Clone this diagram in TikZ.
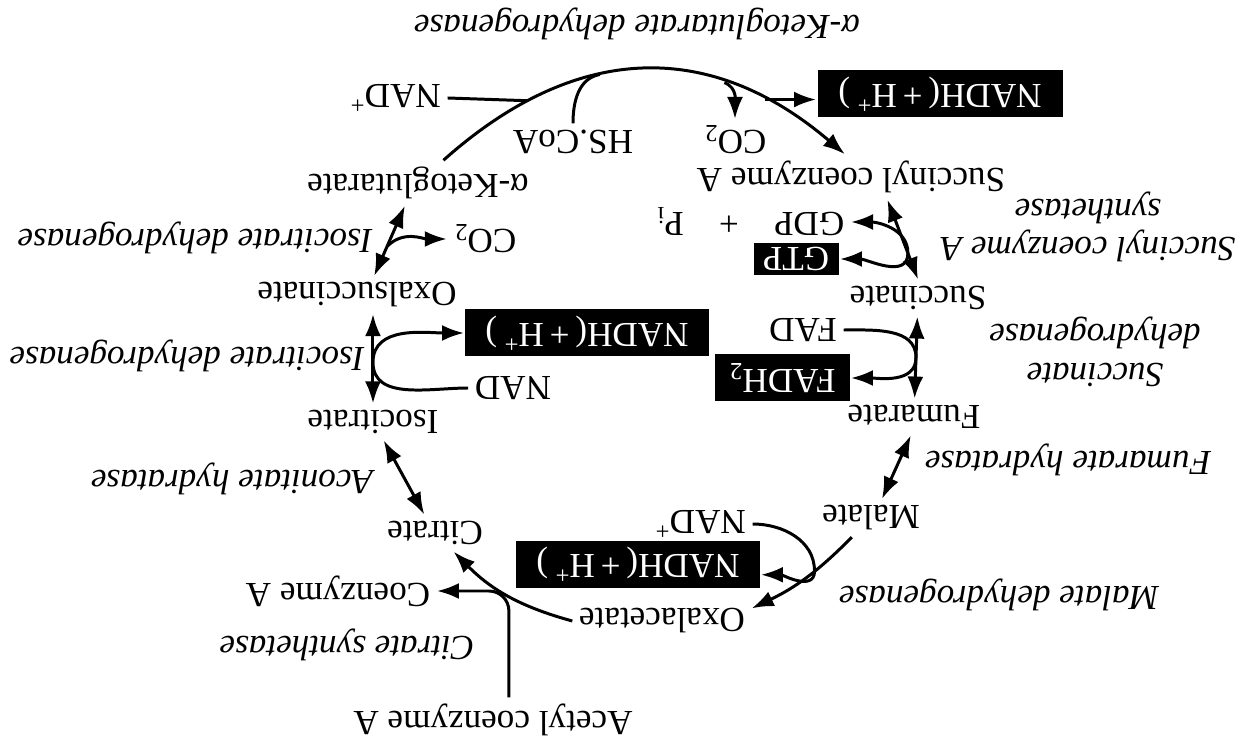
\documentclass[tikz,border=0pt]{standalone}
\usepackage{fontspec}
\setmainfont{Liberation Serif}
\usetikzlibrary{arrows.meta}

\begin{document}
\begin{tikzpicture}[rotate=180, transform shape, line width=0.85pt,
    every node/.style={inner sep=1.5pt},
    arr/.style={-{Latex[length=2.2mm,width=1.6mm]}},
    dbl/.style={{Latex[length=2.2mm,width=1.6mm]}-{Latex[length=2.2mm,width=1.6mm]}},
    enz/.style={font=\fontsize{10}{11}\selectfont\itshape, align=center},
    blk/.style={fill=black, text=white, inner sep=0pt, minimum height=4.7mm}]
  \useasboundingbox (0,0) rectangle (12.51,-7.42);

  % the cycle
  \node (acoa)   at (7.58,-0.22) {Acetyl coenzyme A};
  \node (oaa)    at (5.89,-1.21) {Oxalacetate};
  \node (cit)    at (8.16,-2.09) {Citrate};
  \node (coa)    at (9.13,-1.51) {Coenzyme A};
  \node (icit)   at (8.78,-3.20) {Isocitrate};
  \node (oxs)    at (8.94,-4.47) {Oxalsuccinate};
  \node (akg)    at (8.33,-5.59) {α-Ketoglutarate};
  \node (succoa) at (4.00,-5.65) {Succinyl coenzyme A};
  \node (succ)   at (3.33,-4.44) {Succinate};
  \node (fum)    at (3.37,-3.25) {Fumarate};
  \node (mal)    at (3.80,-2.24) {Malate};

  % cofactors
  \node (nadA)  at (8.56,-6.44) {NAD\textsuperscript{+}};
  \node (hscoa) at (6.78,-6.00) {HS.CoA};
  \node (co2A)  at (5.16,-6.02) {CO\textsubscript{2}};
  \node[blk, minimum width=24.5mm] (nadhA) at (3.11,-6.48) {NADH(\,+\,H\textsuperscript{+}\,)};
  \node (gdp)   at (5.01,-5.20) {GDP\quad+\quad P\textsubscript{i}};
  \node[blk, minimum width=8.5mm, minimum height=3.2mm] (gtp) at (4.55,-4.83) {GTP};
  \node (fad)   at (4.48,-4.12) {FAD};
  \node[blk, minimum width=13.5mm] (fadh) at (4.69,-3.64) {FADH\textsubscript{2}};
  \node (nadC)  at (5.51,-2.18) {NAD\textsuperscript{+}};
  \node[blk, minimum width=24.3mm] (nadhC) at (6.13,-1.78) {NADH(\,+\,H\textsuperscript{+}\,)};
  \node (nadB)  at (7.38,-3.54) {NAD};
  \node[blk, minimum width=24.3mm] (nadhB) at (6.64,-4.09) {NADH(\,+\,H\textsuperscript{+}\,)};
  \node (co2B)  at (7.66,-5.03) {CO\textsubscript{2}};

  % enzymes
  \node[enz] (kgdh) at (6.14,-7.18) {α-Ketoglutarate dehydrogenase};
  \node[enz] (scs)  at (1.63,-5.15) {Succinyl coenzyme A\\synthetase};
  \node[enz] (sdh)  at (1.56,-3.90) {Succinate\\dehydrogenase};
  \node[enz] (fh)   at (1.83,-2.82) {Fumarate hydratase};
  \node[enz] (mdh)  at (2.52,-1.47) {Malate dehydrogenase};
  \node[enz] (cs)   at (9.04,-0.97) {Citrate synthetase};
  \node[enz] (aco)  at (10.19,-2.63) {Aconitate hydratase};
  \node[enz] (idhB) at (10.64,-3.86) {Isocitrate dehydrogenase};
  \node[enz] (idhA) at (10.56,-5.04) {Isocitrate dehydrogenase};

  \draw[arr] (acoa.-125) [rounded corners=2mm] |- (coa.west);
  \draw[arr] (oaa.east) to[bend left=15] (cit.135);
  \draw[dbl] (cit.-60) -- (icit.120);
  \draw[dbl] (icit.south) -- (icit.south |- oxs.north) coordinate[pos=0.46] (i1);
  \draw[arr] (nadB.east) to[out=0,in=90] (i1) to[out=-90,in=0] (nadhB.east);
  \draw[dbl] (oxs.-132) -- (akg.60) coordinate[pos=0.42] (o1);
  \draw[arr] (o1) to[out=225,in=0] (co2B.east);

  \draw[arr] (akg) .. controls (6.74,-7.01) and (5.40,-7.02) .. (succoa.-75)
    coordinate[pos=0.21] (k1) coordinate[pos=0.39] (k2)
    coordinate[pos=0.70] (k3) coordinate[pos=0.80] (k4);
  \draw (nadA.west) -- (k1);
  \draw (hscoa.south) to[out=-90,in=10] (k2);
  \draw[arr] (k3) to[out=160,in=-90] (co2A.south);
  \draw[arr] (k4) -- (k4 -| nadhA.east);

  \draw[dbl] (succoa.148) -- (succ.south) coordinate[pos=0.67] (s1);
  \draw[arr] (s1) to[out=90,in=180] (gtp.west);
  \draw[arr] (s1) to[out=-90,in=180] (gdp.west);
  \draw[dbl] (succ) -- (fum) coordinate[pos=0.5] (f1);
  \draw[arr] (fad.west) to[out=180,in=-90] (f1) to[out=90,in=180] (fadh.west);
  \draw[dbl] (fum.80) -- (mal.-120);
  \draw[arr] (mal.45) to[bend left=10] node[coordinate, pos=0.4] (m1) {} (oaa.188);
  \draw[arr] (nadC.west) to[out=180,in=-90] (m1) to[out=90,in=180] (nadhC.175);
\end{tikzpicture}
\end{document}
